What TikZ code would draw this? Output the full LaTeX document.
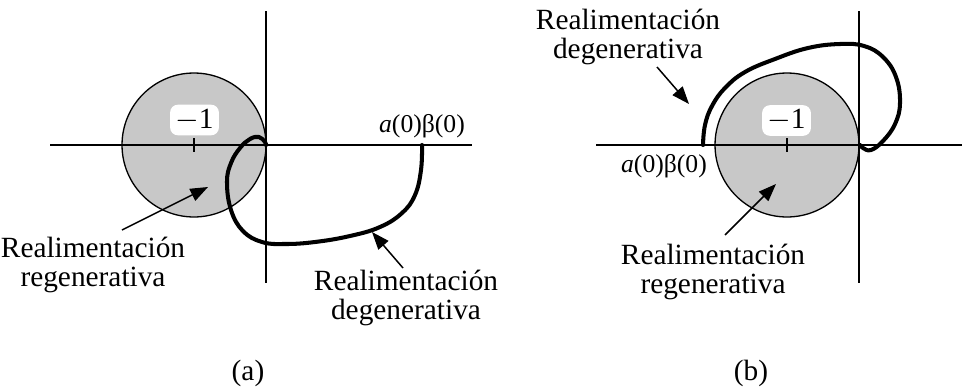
\documentclass[tikz,border=0pt]{standalone}
\usepackage{fontspec}
\setmainfont{Liberation Serif}
\usetikzlibrary{arrows.meta}
\definecolor{regiongray}{RGB}{200,200,200}

\begin{document}
\begin{tikzpicture}[x=0.02cm,y=-0.02cm,
		haxis/.style={line width=1.1pt},
		vaxis/.style={line width=0.75pt},
		region/.style={draw,line width=0.75pt,fill=regiongray},
		locus/.style={line width=2.3pt,line join=round,line cap=round},
		pointer/.style={line width=0.85pt,-{Triangle[length=10pt,width=7.5pt]}},
		label style/.style={font=\fontsize{16.7}{17}\selectfont,align=center,inner sep=0pt},
		minus one/.style={fill=white,rounded corners=4.5pt,inner xsep=3pt,inner ysep=2.5pt,font=\fontsize{16.7}{17}\selectfont}
		]
		\useasboundingbox (0,0) rectangle (962,389);
		
		% (a) unit circle round -1
		\draw[region] (194,145) circle[radius=1.44cm];
		\draw[haxis] (50,145) -- (472,145);
		\draw[vaxis] (266,11) -- (266,283);
		\draw[vaxis] (194,138) -- (194,152);
		\node[minus one] (mone a) at (194.5,120) {$-$1};
		\node[label style,font=\fontsize{14.6}{17}\selectfont] (ab a) at (422,126) {\textit{a}(0)β(0)};
		
		% (a) locus
		\draw[locus] plot[smooth,tension=0.7] coordinates {(422,145) (421,170) (415,195)
			(402,213) (380,227) (350,236) (315,242) (285,244) (262,242)
			(243,231) (231,210) (227,182) (231,163) (240,148) (250,139) (259,137)
			(265,142) (266,145)};
		
		% (a) labels
		\node[label style] (reg a) at (93,265) {Realimentación\\regenerativa};
		\node[label style] (deg a) at (406,298) {Realimentación\\degenerativa};
		\coordinate (reg a tail) at (122,230);
		\coordinate (reg a head) at (208,187);
		\coordinate (deg a tail) at (403,268);
		\coordinate (deg a head) at (372,232);
		\draw[pointer] (reg a tail) -- (reg a head);
		\draw[pointer] (deg a tail) -- (deg a head);
		\node[label style] (cap a) at (248,373) {(a)};
		
		% (b) unit circle round -1
		\draw[region] (787,145) circle[radius=1.44cm];
		\draw[haxis] (596,145) -- (962,145);
		\draw[vaxis] (859,11) -- (859,283);
		\draw[vaxis] (787,138) -- (787,152);
		\node[minus one] (mone b) at (786.5,120.5) {$-$1};
		\node[label style,font=\fontsize{14.6}{17}\selectfont] (ab b) at (664,166) {\textit{a}(0)β(0)};
		
		% (b) locus
		\draw[locus] plot[smooth,tension=0.7] coordinates {(703,145) (705,125) (712,106)
			(725,88) (745,72) (775,59) (808,48) (840,44) (864,46) (883,57)
			(896,77) (900,103) (895,124) (883,141) (871,150) (863,148) (860,145)};
		
		% (b) labels
		\node[label style] (deg b) at (628,37) {Realimentación\\degenerativa};
		\node[label style] (reg b) at (713,272) {Realimentación\\regenerativa};
		\coordinate (deg b tail) at (657,67);
		\coordinate (deg b head) at (689,104);
		\coordinate (reg b tail) at (725,235);
		\coordinate (reg b head) at (776,184);
		\draw[pointer] (deg b tail) -- (deg b head);
		\draw[pointer] (reg b tail) -- (reg b head);
		\node[label style] (cap b) at (751,373) {(b)};
		
	\end{tikzpicture}
\end{document}
